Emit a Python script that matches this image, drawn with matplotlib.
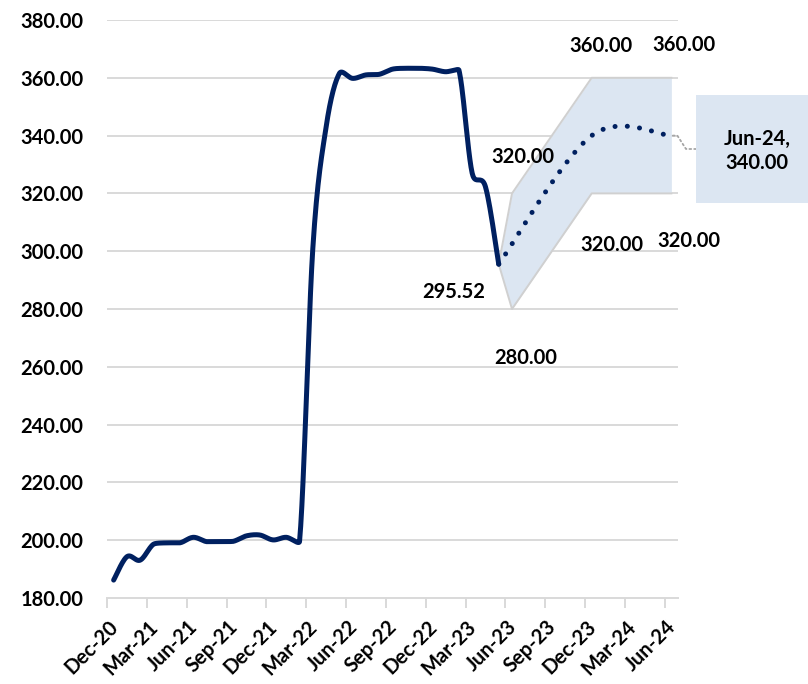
import numpy as np
import matplotlib.pyplot as plt
from matplotlib.patches import Rectangle
from matplotlib.transforms import ScaledTranslation

plt.rcParams['font.family'] = ['Lato', 'DejaVu Sans']
plt.rcParams['font.weight'] = 'bold'

NAVY = '#002060'
GRID = '#d9d9d9'

# monthly history, Dec-20 .. May-23 (index 0 = Dec-20)
hist_vals = [186.2, 194.3, 193.1, 198.6, 199.1, 199.1, 201.0, 199.5, 199.5, 199.6,
             201.5, 201.8, 200.1, 201.0, 199.6, 301.0, 343.0, 361.5, 359.8, 361.0,
             361.2, 363.0, 363.3, 363.3, 363.0, 362.1, 362.7, 327.0, 322.3, 295.52]

# forecast path and range (month index: May-23, Dec-23, Jun-24)
fc_idx = [29, 36, 42]
fc_vals = [295.52, 340.0, 340.0]
band_idx = [29, 30, 36, 42]
band_hi = [295.52, 320.0, 360.0, 360.0]
band_lo = [295.52, 280.0, 320.0, 320.0]

tick_labels = ['Dec-20', 'Mar-21', 'Jun-21', 'Sep-21', 'Dec-21', 'Mar-22', 'Jun-22',
               'Sep-22', 'Dec-22', 'Mar-23', 'Jun-23', 'Sep-23', 'Dec-23', 'Mar-24', 'Jun-24']
n_months = 43


def smooth(x, y, n=24, clip=True):
    # bezier through the points; with clip the tangents are cut so the curve does not overshoot
    x = np.asarray(x, float)
    y = np.asarray(y, float)
    P = np.column_stack([x, y])
    P = np.vstack([P[0], P, P[-1]])
    t = np.linspace(0, 1, n)[:, None]
    segs = []
    for k in range(len(x) - 1):
        p0, p1, p2, p3 = P[k], P[k + 1], P[k + 2], P[k + 3]
        dy = abs(p2[1] - p1[1])
        d1 = (p2 - p0) / 6
        d2 = (p3 - p1) / 6
        if clip and abs(d1[1]) > dy:
            d1 = d1 * dy / abs(d1[1])
        if clip and abs(d2[1]) > dy:
            d2 = d2 * dy / abs(d2[1])
        c1 = p1 + d1
        c2 = p2 - d2
        b = ((1 - t) ** 3) * p1 + 3 * ((1 - t) ** 2) * t * c1 + 3 * (1 - t) * t ** 2 * c2 + t ** 3 * p2
        segs.append(b if k == 0 else b[1:])
    s = np.vstack(segs)
    return s[:, 0], s[:, 1]


# points sit in the middle of each month slot
hx = np.arange(len(hist_vals)) + 0.5
fx = np.array(fc_idx) + 0.5
bx = np.array(band_idx) + 0.5

fig = plt.figure(figsize=(8.08, 6.84), dpi=100)
ax = fig.add_axes([107 / 808, 86 / 684, 571 / 808, 578 / 684])
ax.set_xlim(0, n_months)
ax.set_ylim(180, 380)

for v in np.arange(200, 381, 20):
    ax.axhline(v, color=GRID, lw=1.4, zorder=0.5)

ax.fill_between(bx, band_lo, band_hi, color='#dce6f2', lw=0, zorder=1)
ax.plot(bx, band_hi, color='#d0d0d0', lw=1.4, zorder=1.1)
ax.plot(bx, band_lo, color='#d0d0d0', lw=1.4, zorder=1.1)

sx, sy = smooth(hx, hist_vals)
ax.plot(sx, sy, color=NAVY, lw=3.6, solid_capstyle='round', solid_joinstyle='round', zorder=3)
fxs, fys = smooth(fx, fc_vals, n=60, clip=False)
ax.plot(fxs, fys, color=NAVY, lw=3.6, linestyle=(0, (0.01, 2.45)),
        dash_capstyle='round', zorder=3)

# data labels
lab_fs = 14.5
ax.annotate(f'{hist_vals[-1]:.2f}', (hx[-1], hist_vals[-1]), xytext=(-45, -28),
            textcoords='offset pixels', ha='center', va='center', fontsize=lab_fs)
hi_offsets = [(11, 36), (9, 32), (13, 33)]
lo_offsets = [(14, -49), (20, -52), (17, -48)]
for x, v, off in zip(bx[1:], band_hi[1:], hi_offsets):
    ax.annotate(f'{v:.2f}', (x, v), xytext=off, textcoords='offset pixels',
                ha='center', va='center', fontsize=lab_fs)
for x, v, off in zip(bx[1:], band_lo[1:], lo_offsets):
    ax.annotate(f'{v:.2f}', (x, v), xytext=off, textcoords='offset pixels',
                ha='center', va='center', fontsize=lab_fs)

# callout box for the last forecast point
fig.patches.append(Rectangle((696 / 808, (684 - 203) / 684), 130 / 808, 108 / 684,
                             transform=fig.transFigure, fc='#dce6f2', ec='none', zorder=0))
ax.annotate('', xy=(fx[-1], fc_vals[-1]), xycoords='data',
            xytext=(696, 684 - 149), textcoords='figure pixels',
            arrowprops=dict(arrowstyle='-', linestyle=':', color='#a6a6a6', lw=1.3,
                            shrinkA=0, shrinkB=0,
                            connectionstyle='arc,angleA=180,armA=10,angleB=0,armB=6,rad=0'),
            annotation_clip=False)
fig.text(757 / 808, (684 - 151) / 684, f'{tick_labels[-1]},\n{fc_vals[-1]:.2f}',
         ha='center', va='center', fontsize=lab_fs, linespacing=1.25)

ax.set_yticks(np.arange(180, 381, 20))
ax.set_yticklabels([f'{v:.2f}' for v in np.arange(180, 381, 20)])
ax.set_xticks(np.arange(0, n_months, 3))
ax.set_xticklabels(tick_labels, rotation=45, ha='right', va='center', rotation_mode='anchor')
ax.tick_params(axis='y', length=0, pad=17, labelsize=14.5)
ax.tick_params(axis='x', length=7, width=1.4, color=GRID, pad=0, labelsize=14.5)
shift = ScaledTranslation(8 / 100, -16 / 100, fig.dpi_scale_trans)
for lab in ax.get_xticklabels():
    lab.set_transform(lab.get_transform() + shift)

for s in ['left', 'right', 'top']:
    ax.spines[s].set_visible(False)
ax.spines['bottom'].set_color(GRID)
ax.spines['bottom'].set_linewidth(1.4)

fig.savefig('out.png', dpi=100)
